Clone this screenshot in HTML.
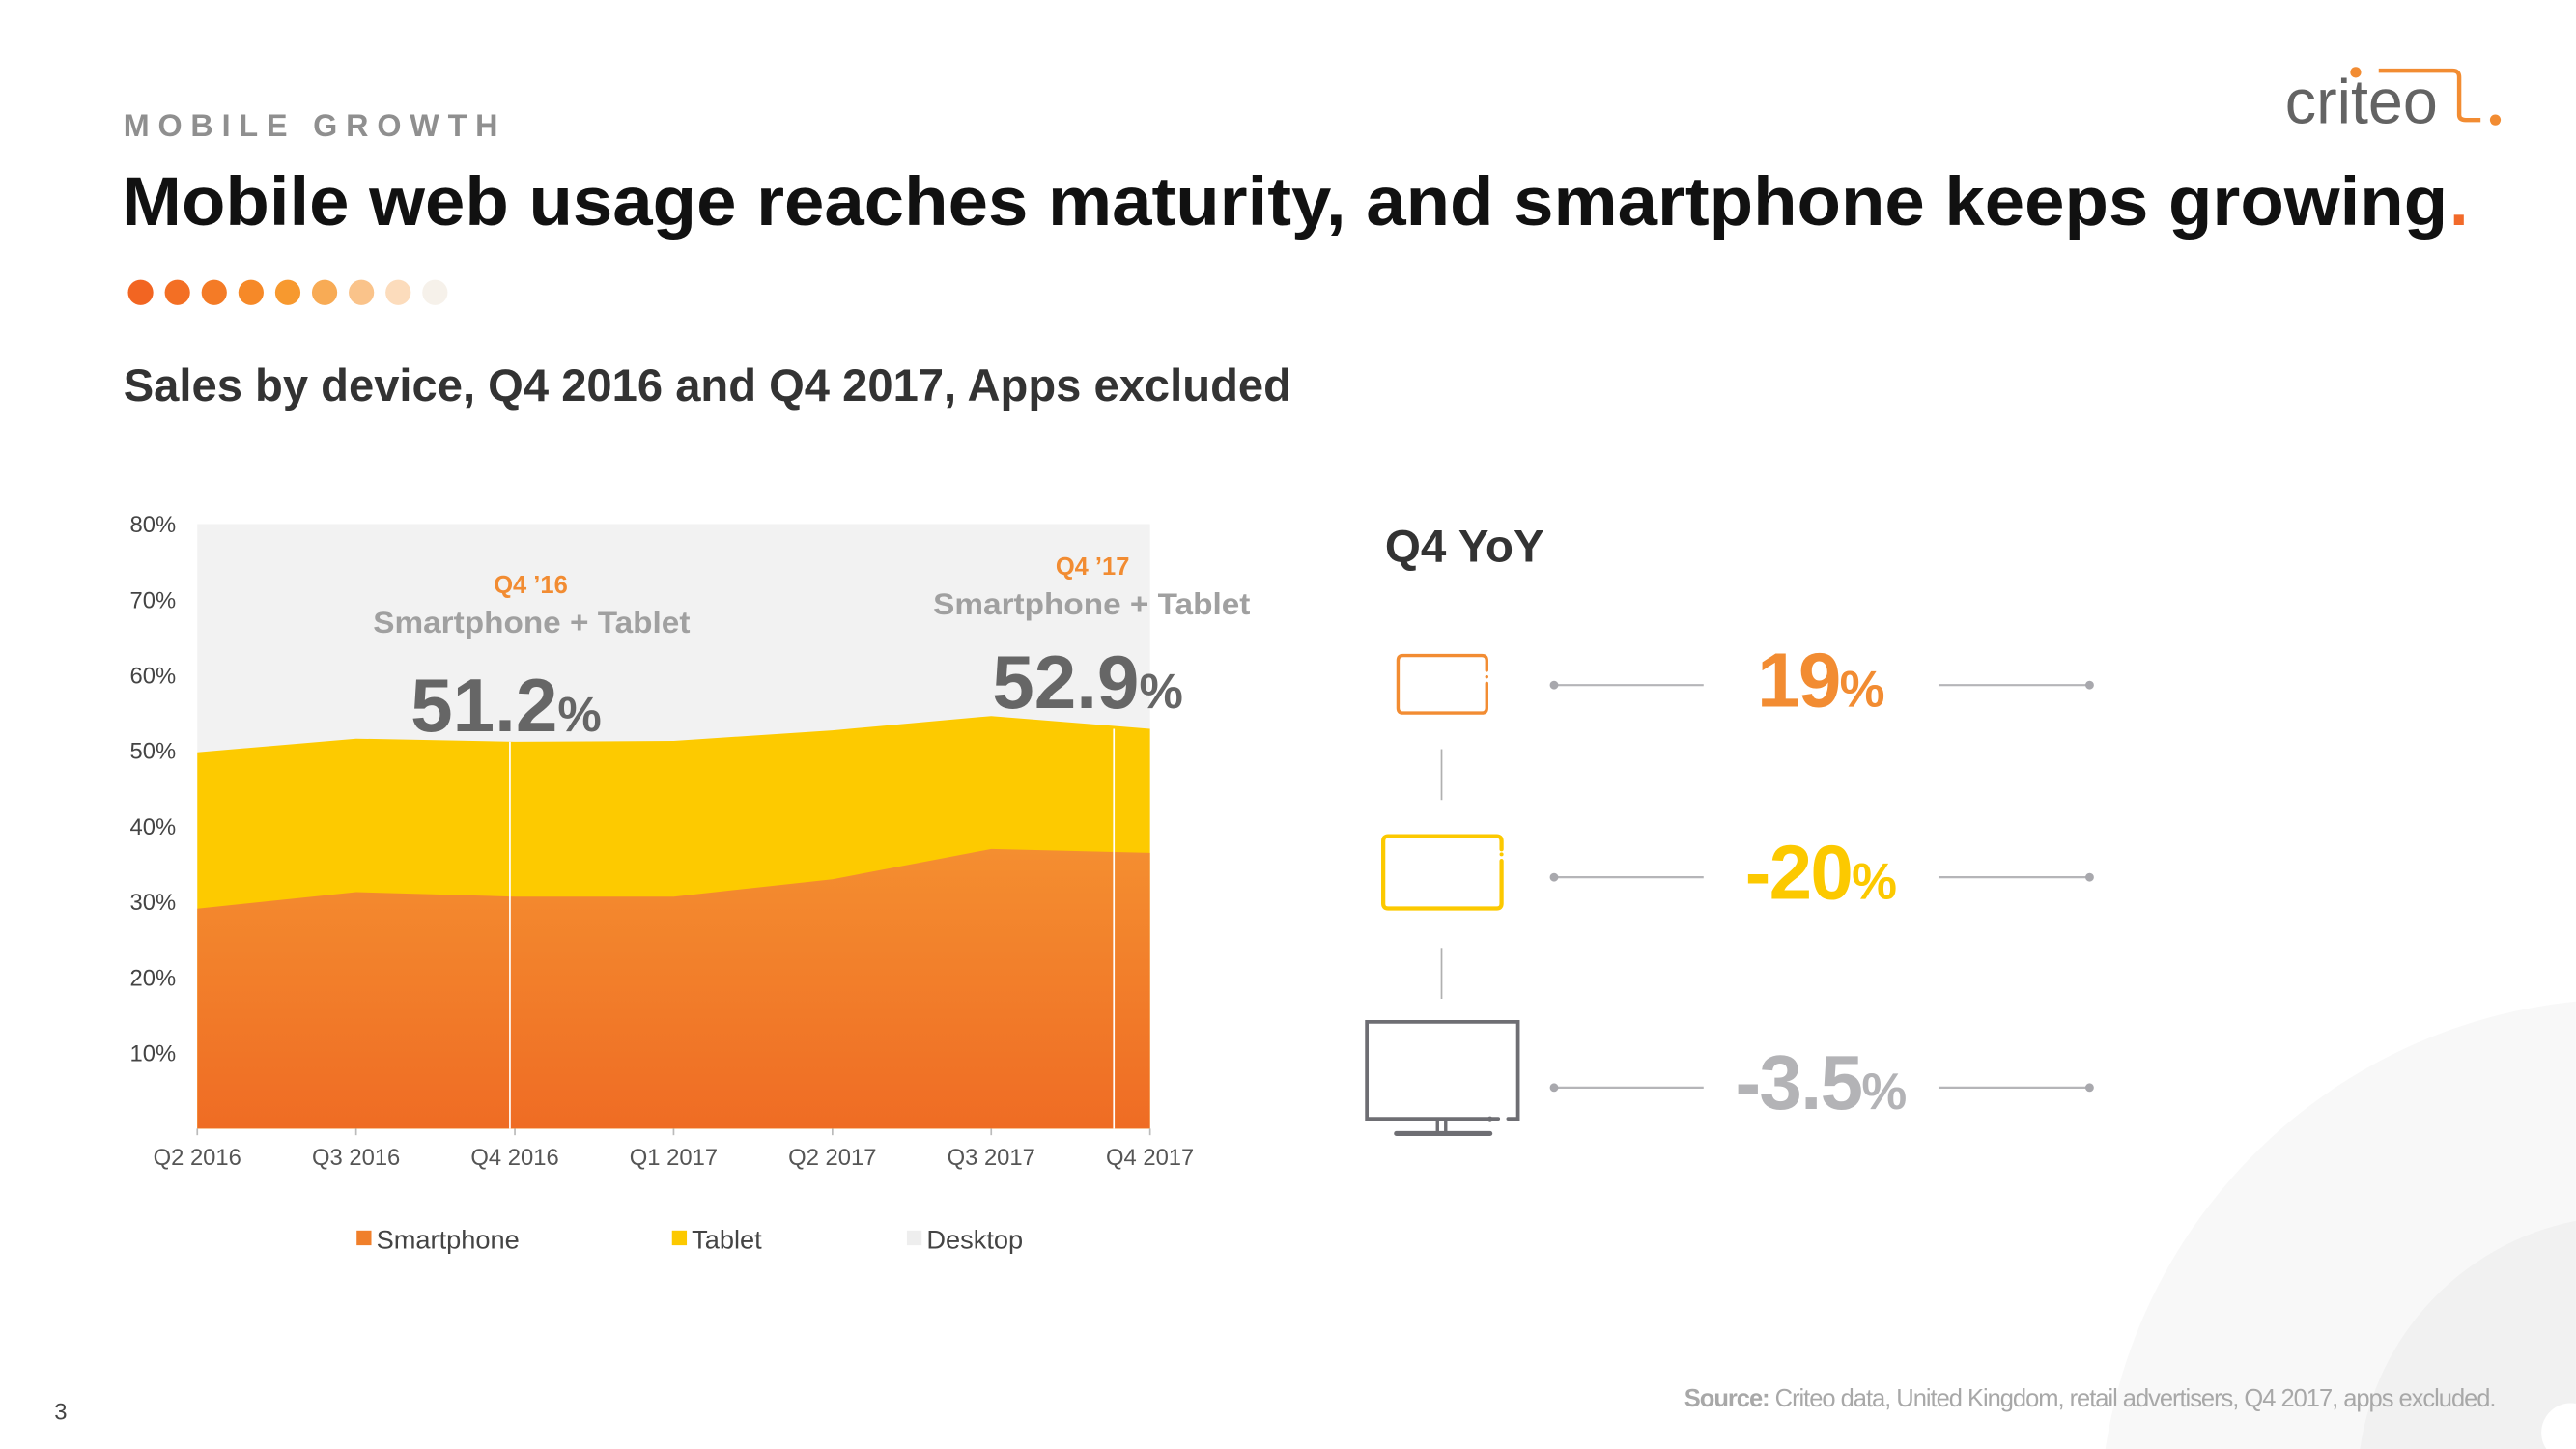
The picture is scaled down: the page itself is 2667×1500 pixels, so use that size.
<!DOCTYPE html>
<html><head><meta charset="utf-8"><style>
html,body{margin:0;padding:0;background:#fff;width:2667px;height:1500px;overflow:hidden;}
svg{display:block;font-family:"Liberation Sans",sans-serif;}
</style></head><body>
<svg id="s" width="2667" height="1500" viewBox="0 0 1568 882" xmlns="http://www.w3.org/2000/svg" style="width:2667px;height:1500px">
<path d="M1281.6 882 A322 322 0 0 1 1568 609.6 L1568 882 Z" fill="#f8f8f8"/>
<path d="M1436.6 882 A165 165 0 0 1 1568 743.1 L1568 882 Z" fill="#f1f1f1"/>
<path d="M1550 882 A18 18 0 0 1 1568 854.3 L1568 882 Z" fill="#fff"/>

<g>
<text x="1391" y="75" font-size="38" fill="#636363">criteo</text>
<circle cx="1434" cy="44" r="3.3" fill="#f28c32"/>
<path d="M1448 43 H1493 Q1497 43 1497 47 V70 Q1497 73 1501 73 H1510" fill="none" stroke="#f28c32" stroke-width="2.6"/>
<circle cx="1519" cy="73" r="3.3" fill="#f28c32"/>
</g>

<text x="75" y="83" font-size="19" font-weight="bold" fill="#8f8f8f" letter-spacing="5.2">MOBILE GROWTH</text>
<text x="74" y="137" font-size="42" font-weight="bold" fill="#111" textLength="1416" lengthAdjust="spacingAndGlyphs">Mobile web usage reaches maturity, and smartphone keeps growing</text>
<text x="1491" y="137" font-size="42" font-weight="bold" fill="#f26a2a">.</text>
<g id="dots"></g>

<text x="75" y="244" font-size="28" font-weight="bold" fill="#333" textLength="711" lengthAdjust="spacingAndGlyphs">Sales by device, Q4 2016 and Q4 2017, Apps excluded</text>

<g id="chart"></g>

<g>
<text x="323" y="361" font-size="15" font-weight="bold" fill="#f28c32" text-anchor="middle">Q4 ’16</text>
<text x="227" y="385" font-size="18.5" font-weight="bold" fill="#a0a0a0" textLength="193" lengthAdjust="spacingAndGlyphs">Smartphone + Tablet</text>
<text x="308" y="445" font-size="46" font-weight="bold" fill="#666" text-anchor="middle">51.2<tspan font-size="30">%</tspan></text>
</g>
<g>
<text x="665" y="350" font-size="15" font-weight="bold" fill="#f28c32" text-anchor="middle">Q4 ’17</text>
<text x="568" y="374" font-size="18.5" font-weight="bold" fill="#a0a0a0" textLength="193" lengthAdjust="spacingAndGlyphs">Smartphone + Tablet</text>
<text x="662" y="431" font-size="46" font-weight="bold" fill="#666" text-anchor="middle">52.9<tspan font-size="30">%</tspan></text>
</g>

<g>
<rect x="217" y="749" width="9" height="9" fill="#f07f2a"/>
<text x="229" y="760" font-size="16" fill="#444">Smartphone</text>
<rect x="409" y="749" width="9" height="9" fill="#fcc900"/>
<text x="421" y="760" font-size="16" fill="#444">Tablet</text>
<rect x="552" y="749" width="9" height="9" fill="#eeeeee"/>
<text x="564" y="760" font-size="16" fill="#444">Desktop</text>
</g>

<text x="843" y="342" font-size="28" font-weight="bold" fill="#333">Q4 YoY</text>

<g fill="none" stroke-linecap="round">
<path d="M905 408 V402 Q905 399 902 399 H854 Q851 399 851 402 V431 Q851 434 854 434 H902 Q905 434 905 431 V416" stroke="#f28c32" stroke-width="2"/>
<circle cx="905" cy="412" r="1" fill="#f28c32"/>
</g>
<g fill="none" stroke-linecap="round">
<path d="M914 517 V512 Q914 509 911 509 H845 Q842 509 842 512 V550 Q842 553 845 553 H911 Q914 553 914 550 V524" stroke="#fcc900" stroke-width="2.5"/>
<circle cx="914" cy="520" r="1.2" fill="#fcc900"/>
</g>
<g fill="none" stroke="#6e6e73" stroke-linecap="round">
<path d="M912 681 H832 V622 H924 V681 H918" stroke-width="2.2"/>
<circle cx="907" cy="681" r="1" fill="#6e6e73"/>
<path d="M875 681 V689 M880 681 V689" stroke-width="2"/>
<path d="M850 690 H907" stroke-width="3"/>
</g>
<g stroke="#b0b0b0" stroke-width="1">
<line x1="877.5" y1="456" x2="877.5" y2="487"/>
<line x1="877.5" y1="577" x2="877.5" y2="608"/>
</g>
<g id="yoy"></g>

<text x="33" y="864" font-size="14" fill="#444">3</text>
<text x="1519" y="856" font-size="15" fill="#a8a8a8" text-anchor="end" letter-spacing="-0.6"><tspan font-weight="bold">Source:</tspan> Criteo data, United Kingdom, retail advertisers, Q4 2017, apps excluded.</text>
</svg>
<script>
const categories = ["Q2 2016","Q3 2016","Q4 2016","Q1 2017","Q2 2017","Q3 2017","Q4 2017"];
const smartphone = [29.1, 31.3, 30.7, 30.7, 33.0, 37.0, 36.5];
const tablet = [20.7, 20.3, 20.5, 20.6, 19.7, 17.6, 16.4];
const yTicks = [10,20,30,40,50,60,70,80];
const yoyLabels = ["19","-20","-3.5"];

const NS = "http://www.w3.org/2000/svg";
function mk(tag, attrs, parent){const e=document.createElementNS(NS,tag);for(const k in attrs)e.setAttribute(k,attrs[k]);parent.appendChild(e);return e;}

const dotColors=["#f26522","#f36f24","#f47b26","#f68928","#f7992f","#f8ab55","#fac38a","#fcdcbc","#f6f1ea"];
const dg=document.getElementById('dots');
dotColors.forEach((c,i)=>{const d=mk('circle',{cx:85.5+22.4*i,cy:178,r:7.7,fill:c},dg);

});

const X0=120,X1=700,Y0=687,Y1=319,YMAX=80;
const x=i=>X0+(X1-X0)*i/(categories.length-1);
const y=v=>Y0-(Y0-Y1)*v/YMAX;
const g=document.getElementById('chart');
const bg=mk('rect',{x:X0,y:Y1,width:X1-X0,height:Y0-Y1,fill:"#f2f2f2"},g);


const total=smartphone.map((v,i)=>v+tablet[i]);
let dT="M"+x(0)+" "+y(0);
total.forEach((v,i)=>dT+=" L"+x(i)+" "+y(v));
dT+=" L"+x(categories.length-1)+" "+y(0)+" Z";
const tA=mk('path',{d:dT,fill:"#fdca00"},g);


let dS="M"+x(0)+" "+y(0);
smartphone.forEach((v,i)=>dS+=" L"+x(i)+" "+y(v));
dS+=" L"+x(categories.length-1)+" "+y(0)+" Z";
const grad=mk('linearGradient',{id:'sg',x1:0,y1:0,x2:0,y2:1},mk('defs',{},g));
mk('stop',{offset:0,'stop-color':'#f48e30'},grad);mk('stop',{offset:1,'stop-color':'#ef6c24'},grad);
const sA=mk('path',{d:dS,fill:"url(#sg)"},g);


[[2,-3],[6,-22]].forEach(([i,off])=>{const l=mk('line',{x1:x(i)+off,x2:x(i)+off,y1:y(total[i]),y2:Y0,stroke:"#fff","stroke-width":1},g);

});
yTicks.forEach(t=>{const tx=mk('text',{x:107,y:y(t)+5,"font-size":14,fill:"#444","text-anchor":"end"},g);tx.textContent=t+"%";

});
categories.forEach((c,i)=>{const tk=mk('line',{x1:x(i),x2:x(i),y1:Y0,y2:Y0+4,stroke:"#bbb"},g);


const tx=mk('text',{x:x(i),y:709,"font-size":14,fill:"#555","text-anchor":"middle"},g);tx.textContent=c;

});

const yg=document.getElementById('yoy');
const rowY=[417,534,662], rowCol=["#f28c32","#fcc900","#b3b3b6"];
yoyLabels.forEach((lab,i)=>{const ry=rowY[i];
mk('line',{x1:946,x2:1037,y1:ry,y2:ry,stroke:"#b5b5b8","stroke-width":1.3},yg);
mk('line',{x1:1180,x2:1272,y1:ry,y2:ry,stroke:"#b5b5b8","stroke-width":1.3},yg);
mk('circle',{cx:946,cy:ry,r:2.6,fill:"#a8a8ad"},yg);mk('circle',{cx:1272,cy:ry,r:2.6,fill:"#a8a8ad"},yg);
const t=mk('text',{x:1108,y:ry+13,"font-size":47,"font-weight":"bold",fill:rowCol[i],"text-anchor":"middle","letter-spacing":"-1"},yg);
t.innerHTML=lab+'<tspan font-size="31">%</tspan>';

});
</script>
</body></html>
